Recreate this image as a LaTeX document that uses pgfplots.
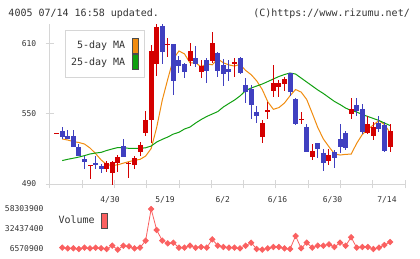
\documentclass[border=0pt]{standalone}
\usepackage{pgfplots}
\pgfplotsset{compat=1.18}
\usepackage{pgfplotstable}
\usepackage{fontspec}
\setmainfont{DejaVu Sans Mono}
\definecolor{cred}{RGB}{212,0,0}
\definecolor{cblue}{RGB}{64,64,192}
\definecolor{maorange}{RGB}{240,140,16}
\definecolor{magreen}{RGB}{16,160,16}
\definecolor{volred}{RGB}{250,96,96}
\definecolor{axgray}{RGB}{214,214,214}
\definecolor{txt}{RGB}{51,51,51}

% red (rising) candles: index open high low close
\pgfplotstableread{
i o h l c
0 533.2 533.2 533.2 533.2
6 506.0 506.0 494.0 506.0
9 502.5 509.6 500.5 508.2
10 499.6 509.9 489.1 508.8
11 508.2 514.7 500.0 512.8
13 506.8 509.0 494.9 508.2
14 506.5 513.9 502.5 512.4
15 517.0 525.8 514.1 523.0
16 533.2 552.5 530.9 544.6
17 544.6 608.6 524.7 603.4
18 592.1 632.0 582.1 624.2
20 609.2 614.3 598.0 609.2
24 595.2 610.0 591.1 603.4
26 585.8 595.8 580.7 590.6
28 595.2 619.9 592.9 610.5
32 593.0 597.2 581.5 594.3
37 530.3 544.6 524.7 541.8
38 552.5 560.2 545.4 552.5
39 569.6 591.5 564.5 576.4
40 573.0 578.7 564.1 576.4
41 575.3 581.5 569.6 579.6
44 545.2 551.7 541.2 545.2
46 513.3 524.1 510.5 518.4
49 509.9 519.6 506.2 514.7
53 549.7 563.6 545.7 554.0
56 533.8 548.0 532.6 541.2
57 530.9 543.1 527.5 538.9
60 521.8 541.2 517.5 535.2
}\redc

% blue (falling) candles: index open high low close
\pgfplotstableread{
i o h l c
1 535.2 538.4 528.6 530.3
2 530.9 536.1 528.4 528.4
3 530.9 536.1 521.3 521.3
4 521.8 523.7 513.9 513.9
5 511.3 513.9 502.8 508.5
7 508.2 513.9 502.5 506.0
8 505.4 507.1 499.1 503.0
12 522.4 528.6 512.8 512.8
19 625.0 628.0 592.1 602.8
21 609.4 609.4 565.9 578.1
22 595.8 599.4 584.9 590.9
23 592.3 593.5 580.7 585.3
25 597.2 607.7 590.1 592.3
27 595.8 597.2 575.9 586.7
29 601.5 602.3 581.0 586.7
30 591.5 596.6 573.8 583.6
31 587.8 595.8 578.1 585.5
33 597.2 598.1 583.8 584.4
34 574.4 580.2 558.8 568.7
35 570.8 574.4 545.2 557.1
36 551.7 556.5 541.8 548.3
42 584.4 584.9 565.1 568.2
43 562.2 563.1 540.3 541.2
45 538.4 541.2 517.5 517.5
47 524.7 524.7 511.9 519.6
48 516.7 519.6 501.3 508.2
50 517.0 519.0 503.4 512.4
51 528.4 541.2 516.7 521.8
52 533.5 535.2 519.0 520.4
54 557.4 563.6 548.3 552.5
55 554.0 558.2 532.6 534.1
58 542.3 548.0 534.6 536.7
59 540.3 542.6 517.3 518.1
}\bluec

\pgfplotstableread{
i v
1 528.4
2 527.5
3 526.2
4 525.4
5 524.1
6 520.7
7 516.0
8 510.5
9 506.6
10 505.8
11 506.4
12 507.8
13 509.1
14 510.2
15 511.0
16 513.8
17 520.2
18 538.3
19 561.5
20 579.6
21 596.8
22 603.5
23 601.0
24 593.3
25 593.4
26 590.0
27 592.5
28 591.7
29 596.7
30 593.4
31 591.6
32 590.6
33 592.1
34 586.9
35 583.3
36 578.0
37 570.6
38 560.1
39 553.7
40 555.2
41 559.1
42 565.3
43 570.6
44 568.4
45 562.1
46 550.3
47 538.1
48 528.4
49 521.8
50 515.7
51 514.7
52 515.3
53 515.5
54 524.7
55 532.2
56 536.6
57 540.4
58 544.1
59 540.7
60 533.8
}\mafive

\pgfplotstableread{
i v
1 510.0
2 511.1
3 512.0
4 513.0
5 514.2
6 515.6
7 516.4
8 517.0
9 518.6
10 519.9
11 521.1
12 521.1
13 520.4
14 520.3
15 520.4
16 520.9
17 522.4
18 525.8
19 528.1
20 530.1
21 532.6
22 534.1
23 536.9
24 538.6
25 542.0
26 545.0
27 547.6
28 549.7
29 551.8
30 555.7
31 558.7
32 561.6
33 565.1
34 569.7
35 571.9
36 573.6
37 575.3
38 577.4
39 579.6
40 581.7
41 583.4
42 584.7
43 583.8
44 580.4
45 577.0
46 573.6
47 570.2
48 567.2
49 563.8
50 560.4
51 557.8
52 554.8
53 552.7
54 551.4
55 549.3
56 547.6
57 545.9
58 544.2
59 542.0
60 539.9
}\matwentyfive

\pgfplotstableread{
i v
1 8290000
2 7430000
3 7430000
4 6570900
5 8290000
6 7430000
7 8290000
8 7430000
9 6570900
10 10880000
11 5710000
12 10880000
13 10020000
14 7430000
15 8290000
16 17350000
17 58303900
18 31140000
19 17350000
20 13900000
21 14760000
22 8290000
23 8290000
24 10880000
25 8290000
26 9160000
27 8290000
28 19070000
29 10880000
30 9160000
31 8290000
32 8290000
33 7430000
34 10880000
35 14760000
36 6570900
37 5710000
38 7430000
39 9160000
40 9160000
41 7430000
42 6570900
43 23400000
44 7430000
45 14760000
46 8290000
47 10880000
48 10880000
49 12600000
50 9160000
51 14760000
52 10880000
53 21660000
54 8290000
55 9160000
56 9160000
57 6570900
58 8290000
59 11740000
60 15620000
}\vol

\begin{document}
\begin{tikzpicture}
\useasboundingbox (0pt,0pt) rectangle (420pt,-259pt);

\begin{axis}[
  scale only axis, width=355pt, height=160pt,
  at={(50pt,-184pt)}, anchor=south west,
  xmin=-1.206, xmax=62.693, ymin=490, ymax=626.5,
  axis x line*=bottom, axis y line*=left,
  axis line style={draw=axgray, line width=1pt, -},
  tick align=center,
  major tick length=8.5pt,
  tick style={draw=axgray, line width=1pt},
  xtick={9.6,19.5,29.9,39.75,49.65,59.45},
  xticklabels={4/30,5/19,6/2,6/16,6/30,7/14},
  xticklabel style={font=\fontsize{8}{9}\selectfont, text=txt, yshift=-5pt},
  xtick style={draw=none},
  extra x ticks={-1.206,4.603,10.412,16.221,22.030,27.839,33.648,39.457,45.266,51.075,56.884,62.693},
  extra x tick labels={,,,,,,,,,,,},
  extra x tick style={xtick style={draw=axgray, line width=1pt}},
  ytick={490,550,610}, yticklabels={490,550,610},
  yticklabel style={font=\fontsize{8}{9}\selectfont, text=txt, xshift=-6pt},
  legend style={at={(0.0423,0.9625)}, anchor=north west, draw=axgray, line width=1pt,
    fill=white, inner xsep=5.5pt, inner ysep=7pt, row sep=1pt,
    /tikz/column sep=7pt, nodes={inner sep=0pt, text=txt},
    font=\fontsize{10}{12}\selectfont},
  legend cell align=right,
  legend plot pos=right,
]
% moving averages
\addplot[maorange, line width=1pt, mark=none,
  legend image code/.code={\draw[fill=maorange, draw=black!70, line width=0.8pt] (0pt,-7.5pt) rectangle (6pt,7.5pt);}]
  table[x=i, y=v] {\mafive};
\addlegendentry{5-day MA}
\addplot[magreen, line width=1pt, mark=none,
  legend image code/.code={\draw[fill=magreen, draw=black!70, line width=0.8pt] (0pt,-7.5pt) rectangle (6pt,7.5pt);}]
  table[x=i, y=v] {\matwentyfive};
\addlegendentry{25-day MA}
% wicks
\addplot[draw=none, mark=none, forget plot,
  error bars/.cd, y dir=both, y explicit, error mark=none,
  error bar style={line width=1pt, cred}]
  table[x=i, y expr={(\thisrow{h}+\thisrow{l})/2}, y error expr={(\thisrow{h}-\thisrow{l})/2}] {\redc};
\addplot[draw=none, mark=none, forget plot,
  error bars/.cd, y dir=both, y explicit, error mark=none,
  error bar style={line width=1pt, cblue}]
  table[x=i, y expr={(\thisrow{h}+\thisrow{l})/2}, y error expr={(\thisrow{h}-\thisrow{l})/2}] {\bluec};
% bodies
\addplot[draw=none, mark=none, forget plot,
  error bars/.cd, y dir=both, y explicit, error mark=none,
  error bar style={line width=5pt, cred}]
  table[x=i, y expr={(\thisrow{o}+\thisrow{c})/2}, y error expr={max(abs(\thisrow{c}-\thisrow{o})/2,0.45)}] {\redc};
\addplot[draw=none, mark=none, forget plot,
  error bars/.cd, y dir=both, y explicit, error mark=none,
  error bar style={line width=5pt, cblue}]
  table[x=i, y expr={(\thisrow{o}+\thisrow{c})/2}, y error expr={max(abs(\thisrow{c}-\thisrow{o})/2,0.45)}] {\bluec};
\end{axis}

\begin{axis}[
  scale only axis, width=355pt, height=40pt,
  at={(50pt,-249pt)}, anchor=south west,
  xmin=-1.206, xmax=62.693, ymin=6570900, ymax=58303900,
  clip=false,
  axis line style={draw=none},
  major tick length=0pt,
  xtick=\empty,
  scaled y ticks=false,
  ytick={6570900,32437400,58303900},
  yticklabels={6570900,32437400,58303900},
  yticklabel style={font=\fontsize{8}{9}\selectfont, text=txt, xshift=-3pt},
  legend style={at={(0.0234,0.705)}, anchor=west, draw=none, fill=none,
    inner sep=0pt, /tikz/column sep=6.5pt, nodes={inner sep=0pt, text=txt},
    font=\fontsize{10}{12}\selectfont},
  legend plot pos=right,
]
\addplot[volred, line width=0.8pt, mark=square*, mark size=1.9pt,
  mark options={rotate=45, fill=volred, draw=volred},
  legend image code/.code={\draw[fill=volred, draw=black!70, line width=0.8pt] (0pt,-7.5pt) rectangle (6pt,7.5pt);}]
  table[x=i, y=v] {\vol};
\addlegendentry{Volume}
\end{axis}

\node[anchor=west, text=txt, font=\fontsize{10}{12}\selectfont, inner sep=0pt] at (8.3pt,-13.3pt) {4005 07/14 16:58 updated.};
\node[anchor=east, text=txt, font=\fontsize{10}{12}\selectfont, inner sep=0pt] at (410pt,-13.3pt) {(C)https://www.rizumu.net/};
\end{tikzpicture}
\end{document}
